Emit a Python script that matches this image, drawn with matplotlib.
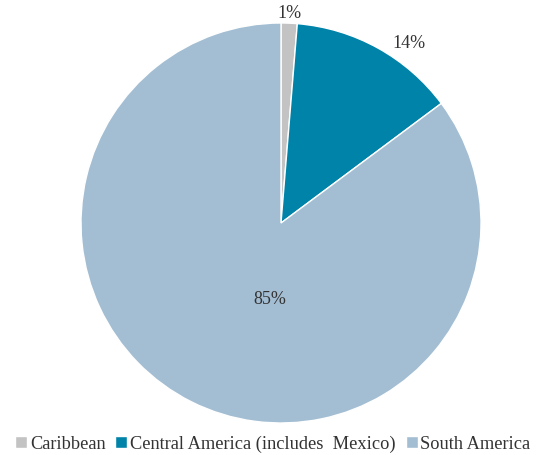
import matplotlib
matplotlib.use("Agg")
import matplotlib.pyplot as plt
import numpy as np

regions = ["Caribbean", "Central America (includes  Mexico)", "South America"]
shares = [1.3, 13.5, 85.2]
labels = ["1%", "14%", "85%"]
colors = ["#C3C3C3", "#0083A9", "#A3BED3"]

plt.rcParams["font.family"] = ["Liberation Serif", "DejaVu Serif"]

fig = plt.figure(figsize=(5.37, 4.56), dpi=100)
ax = fig.add_axes([81 / 537, 32 / 456, 400 / 537, 400 / 456])
wedges, _ = ax.pie(shares, colors=colors, startangle=90, counterclock=False,
                   radius=1.0, wedgeprops=dict(edgecolor="white", linewidth=1.0))
ax.set_xlim(-1, 1)
ax.set_ylim(-1, 1)
ax.set_aspect("equal")

# label positions: outside for the small slices, inside for the big one
label_pos = [(0.04, 1.05), (0.64, 0.905), (-0.055, -0.38)]
for (x, y), lab in zip(label_pos, labels):
    ax.text(x, y, lab, ha="center", va="center", fontsize=13, color="#333333")

fig.legend(wedges, regions, loc="lower center", bbox_to_anchor=(0.508, -0.03),
           ncol=3, frameon=False, fontsize=13.2, handlelength=0.65,
           handleheight=0.65, handletextpad=0.15, columnspacing=0.55,
           labelcolor="#333333")

fig.savefig("out.png", dpi=100)
